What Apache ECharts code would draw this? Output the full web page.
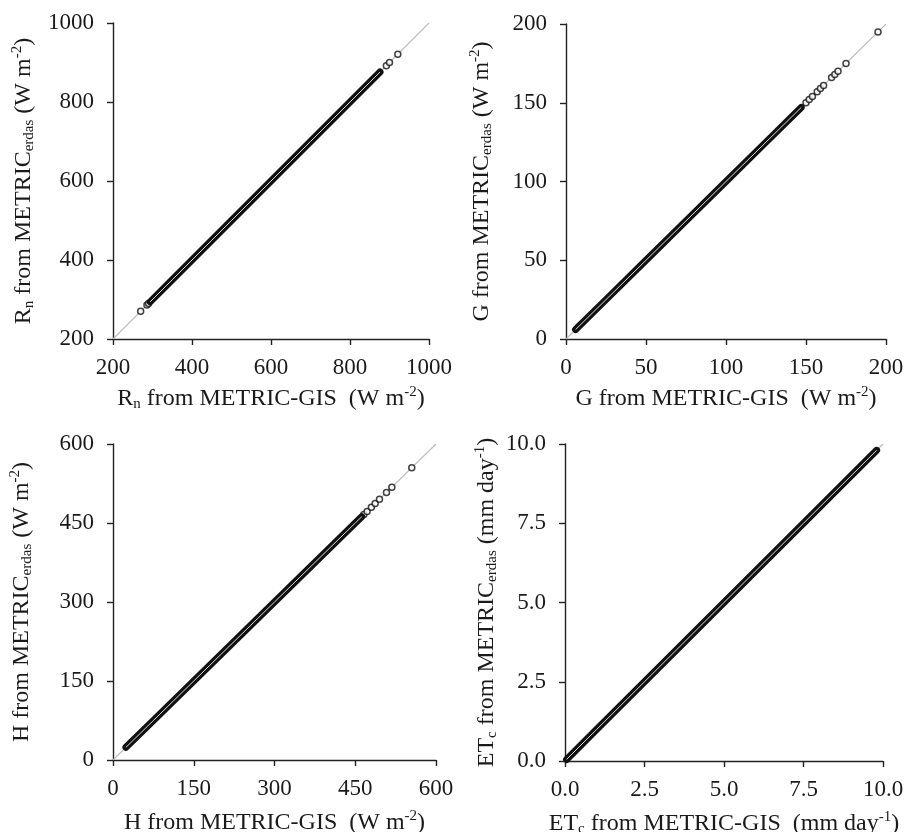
<!DOCTYPE html>
<html>
<head>
<meta charset="utf-8">
<script src="https://cdn.jsdelivr.net/npm/echarts@6/dist/echarts.min.js"></script>
<style>
html,body{margin:0;padding:0;background:#fff;}
#chart{width:919px;height:832px;}
</style>
</head>
<body>
<div id="chart"></div>
<script>
// ---- tick labels (axis ranges) ----
const rnTicks = [200, 400, 600, 800, 1000];
const gTicks  = [0, 50, 100, 150, 200];
const hTicks  = [0, 150, 300, 450, 600];
const etTicks = [0, 2.5, 5, 7.5, 10];

// ---- Rn (W m-2): dense band and isolated points ----
const rnBandGIS   = [294, 350, 400, 450, 500, 550, 600, 650, 700, 750, 800, 850, 876];
const rnBandErdas = [294, 350, 400, 450, 500, 550, 600, 650, 700, 750, 800, 850, 876];
const rnOutGIS    = [270, 286, 290, 892, 900, 921];
const rnOutErdas  = [270, 286, 290, 892, 900, 921];

// ---- G (W m-2) ----
const gBandGIS   = [6, 25, 50, 75, 100, 125, 147];
const gBandErdas = [6, 25, 50, 75, 100, 125, 147];
const gOutGIS    = [150, 152, 154, 157, 159, 161, 166, 168, 170, 175, 195];
const gOutErdas  = [150, 152, 154, 157, 159, 161, 166, 168, 170, 175, 195];

// ---- H (W m-2) ----
const hBandGIS   = [24, 75, 150, 225, 300, 375, 450, 462];
const hBandErdas = [24, 75, 150, 225, 300, 375, 450, 462];
const hOutGIS    = [466, 472, 480, 487, 495, 508, 518, 555];
const hOutErdas  = [466, 472, 480, 487, 495, 508, 518, 555];

// ---- ETc (mm day-1) ----
const etBandGIS   = [0.05, 1, 2.5, 5, 7.5, 9.8];
const etBandErdas = [0.05, 1, 2.5, 5, 7.5, 9.8];
const etOutGIS    = [];
const etOutErdas  = [];

const FONT = '"Liberation Serif","Times New Roman",serif';
const TXT = '#1a1a1a';
const rich = {
  n:   {fontFamily: FONT, fontSize: 24, color: TXT, lineHeight: 27},
  sub: {fontFamily: FONT, fontSize: 15, color: TXT, lineHeight: 17, verticalAlign: 'bottom'},
  sup: {fontFamily: FONT, fontSize: 15, color: TXT, lineHeight: 21, verticalAlign: 'top'}
};

const grids = [
  {left: 113, top: 23,  width: 316, height: 316},
  {left: 566, top: 24,  width: 320, height: 315},
  {left: 113, top: 444, width: 323, height: 316},
  {left: 565, top: 444, width: 318, height: 317}
].map(g => Object.assign({outerBoundsMode: 'none', containLabel: false}, g));

function makeAxis(gi, ticks, name, gap, dec) {
  return {
    type: 'value', gridIndex: gi,
    min: ticks[0], max: ticks[ticks.length - 1], interval: ticks[1] - ticks[0],
    name: name, nameLocation: 'middle', nameGap: gap,
    nameTextStyle: {rich: rich},
    axisLine: {show: true, onZero: false, lineStyle: {color: '#222', width: 1.4}},
    axisTick: {show: true, inside: false, length: 6, lineStyle: {color: '#222', width: 1.4}},
    splitLine: {show: false},
    axisLabel: {
      show: true, fontFamily: FONT, fontSize: 23, color: TXT, margin: 17,
      showMinLabel: true, showMaxLabel: true,
      formatter: v => dec ? v.toFixed(1) : String(v)
    }
  };
}

const xAxes = [
  makeAxis(0, rnTicks, '{n|R}{sub|n}{n| from METRIC-GIS  (W m}{sup|-2}{n|)}', 46, false),
  makeAxis(1, gTicks,  '{n|G from METRIC-GIS  (W m}{sup|-2}{n|)}', 46, false),
  makeAxis(2, hTicks,  '{n|H from METRIC-GIS  (W m}{sup|-2}{n|)}', 49, false),
  makeAxis(3, etTicks, '{n|ET}{sub|c}{n| from METRIC-GIS  (mm day}{sup|-1}{n|)}', 49, true)
];
const yAxes = [
  makeAxis(0, rnTicks, '{n|R}{sub|n}{n| from METRIC}{sub|erdas}{n| (W m}{sup|-2}{n|)}', 76, false),
  makeAxis(1, gTicks,  '{n|G from METRIC}{sub|erdas}{n| (W m}{sup|-2}{n|)}', 71, false),
  makeAxis(2, hTicks,  '{n|H from METRIC}{sub|erdas}{n| (W m}{sup|-2}{n|)}', 78, false),
  makeAxis(3, etTicks, '{n|ET}{sub|c}{n| from METRIC}{sub|erdas}{n| (mm day}{sup|-1}{n|)}', 65, true)
];
yAxes.forEach(a => { a.axisLabel.margin = 19; });

function zip(a, b) { return a.map((v, i) => [v, b[i]]); }

const panels = [
  [rnTicks, rnBandGIS, rnBandErdas, rnOutGIS, rnOutErdas],
  [gTicks,  gBandGIS,  gBandErdas,  gOutGIS,  gOutErdas],
  [hTicks,  hBandGIS,  hBandErdas,  hOutGIS,  hOutErdas],
  [etTicks, etBandGIS, etBandErdas, etOutGIS, etOutErdas]
];

const series = [];
panels.forEach((p, i) => {
  const [ticks, bx, by, ox, oy] = p;
  const lo = ticks[0], hi = ticks[ticks.length - 1];
  // 1:1 line
  series.push({
    type: 'line', xAxisIndex: i, yAxisIndex: i, z: 2,
    symbol: 'none', showSymbol: false,
    lineStyle: {color: '#bdbdbd', width: 1.1},
    data: [[lo, lo], [hi, hi]], silent: true, animation: false
  });
  // isolated points (hollow circles)
  series.push({
    type: 'scatter', xAxisIndex: i, yAxisIndex: i, z: 3,
    symbol: 'circle', symbolSize: 6,
    itemStyle: {color: '#fff', borderColor: '#111', borderWidth: 1.5},
    data: zip(ox, oy), silent: true
  });
  // dense band of overlapping hollow points
  series.push({
    type: 'line', xAxisIndex: i, yAxisIndex: i, z: 4,
    symbol: 'none', showSymbol: false,
    lineStyle: {color: '#111', width: 7, cap: 'round'},
    data: zip(bx, by), silent: true, animation: false
  });
  // light centre of the hollow-point band
  series.push({
    type: 'line', xAxisIndex: i, yAxisIndex: i, z: 5,
    symbol: 'none', showSymbol: false,
    lineStyle: {color: '#d8d8d8', width: 1},
    data: zip(bx, by), silent: true, animation: false
  });
});

const chart = echarts.init(document.getElementById('chart'), null, {renderer: 'canvas'});
chart.setOption({
  animation: false,
  backgroundColor: '#fff',
  grid: grids,
  xAxis: xAxes,
  yAxis: yAxes,
  series: series
});
</script>
</body>
</html>
